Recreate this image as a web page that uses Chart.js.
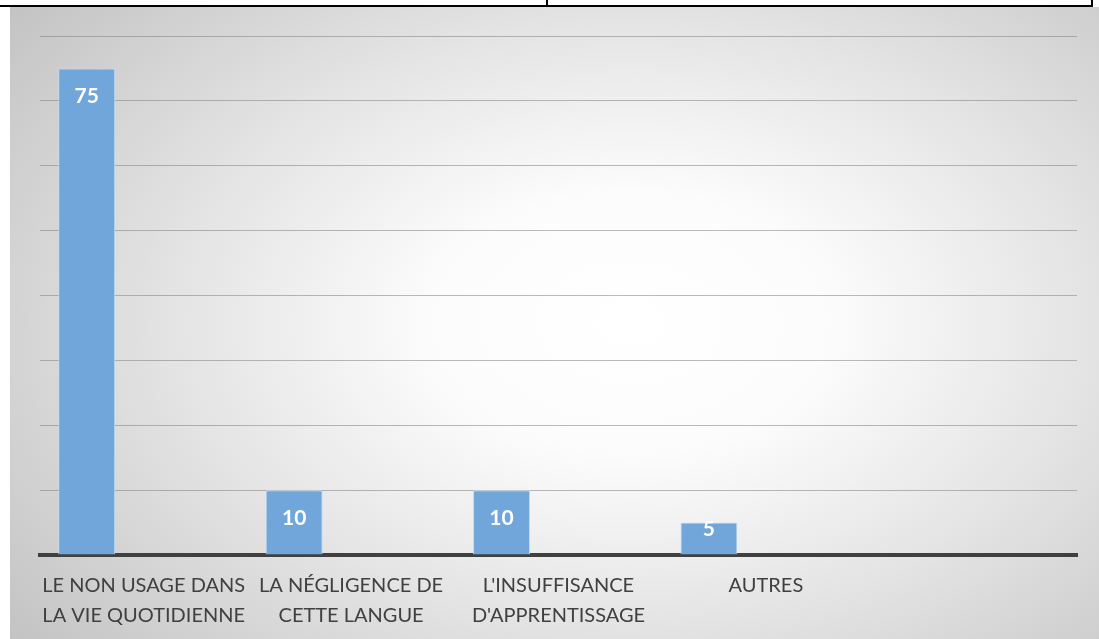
<!DOCTYPE html>
<html>
<head>
<meta charset="utf-8">
<script src="https://cdn.jsdelivr.net/npm/chart.js@4.4.1/dist/chart.umd.min.js"></script>
<style>
  html, body { margin: 0; padding: 0; background: #ffffff; width: 1099px; height: 639px; overflow: hidden; }
  #hline { position: absolute; left: 0; top: 5px; width: 1093px; height: 2px; background: #000; }
  #v1 { position: absolute; left: 546px; top: 0; width: 2px; height: 6px; background: #000; }
  #v2 { position: absolute; left: 1091px; top: 0; width: 2px; height: 7px; background: #000; }
  #panel { position: absolute; left: 10px; top: 7px; width: 1089px; height: 632px;
    background: radial-gradient(ellipse 72% 82% at 57% 50%, #ffffff 0%, #fcfcfc 25%, #e4e4e4 58%, #c3c3c3 100%); }
  #c { position: absolute; left: 0; top: 0; }
</style>
</head>
<body>
<div id="hline"></div><div id="v1"></div><div id="v2"></div>
<div id="panel"><canvas id="c" width="1089" height="632"></canvas></div>
<script>
const categories = [
  ["LE NON USAGE DANS", "LA VIE QUOTIDIENNE"],
  ["LA NÉGLIGENCE DE", "CETTE LANGUE"],
  ["L'INSUFFISANCE", "D'APPRENTISSAGE"],
  ["AUTRES"],
  [""]
];
const serie1 = [75, 10, 10, 5, null];
const serie2 = [null, null, null, null, null];
const serie3 = [null, null, null, null, null];
const yTicks = [0, 10, 20, 30, 40, 50, 60, 70, 80];

const FONT = "Lato, 'Open Sans', sans-serif";

const dataLabels = {
  id: 'dataLabels',
  afterDatasetsDraw(chart) {
    const ctx = chart.ctx;
    const meta = chart.getDatasetMeta(0);
    ctx.save();
    ctx.fillStyle = '#ffffff';
    ctx.font = "bold 21px " + FONT;
    ctx.textAlign = 'center';
    ctx.textBaseline = 'middle';
    meta.data.forEach((bar, i) => {
      const v = serie1[i];
      if (v === null) return;
      const h = bar.base - bar.y;
      ctx.fillText(String(v), bar.x, bar.y + Math.min(28, h - 25));
    });
    ctx.restore();
  }
};

new Chart(document.getElementById('c'), {
  type: 'bar',
  data: {
    labels: categories,
    datasets: [
      { label: 'Série 1', data: serie1, backgroundColor: '#70a6da', borderColor: '#c2daf0', borderWidth: 1 },
      { label: 'Série 2', data: serie2, backgroundColor: '#ed7d31' },
      { label: 'Série 3', data: serie3, backgroundColor: '#a5a5a5' }
    ]
  },
  options: {
    responsive: false,
    animation: false,
    devicePixelRatio: 1,
    categoryPercentage: 0.824,
    barPercentage: 1,
    layout: { padding: { left: 30, right: 22, top: 29, bottom: 0 } },
    plugins: { legend: { display: false }, tooltip: { enabled: false } },
    scales: {
      x: {
        grid: { display: false, drawTicks: false },
        border: { display: true, color: '#404040', width: 4 },
        ticks: {
          color: '#404040',
          font: { family: FONT, size: 20, lineHeight: 1.5 },
          padding: 16,
          maxRotation: 0,
          minRotation: 0,
          autoSkip: false
        },
        afterFit(scale) { scale.height = 84; }
      },
      y: {
        min: 0,
        max: 80,
        afterBuildTicks(scale) { scale.ticks = yTicks.map(v => ({ value: v })); },
        ticks: { display: false },
        grid: { color: 'rgba(130,130,130,0.55)', lineWidth: 1, drawTicks: false },
        border: { display: false },
        afterFit(scale) { scale.width = 0; }
      }
    }
  },
  plugins: [dataLabels]
});
</script>
</body>
</html>
